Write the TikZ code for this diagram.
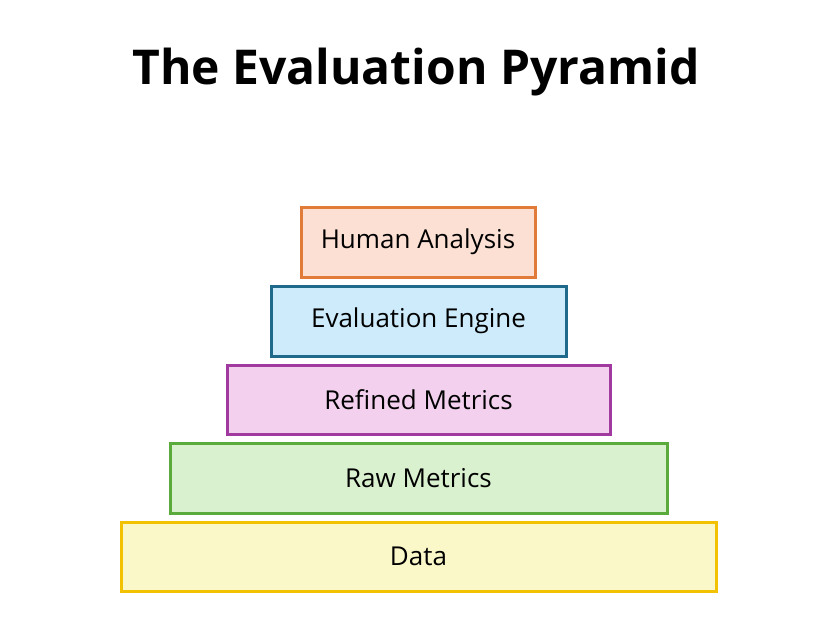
\documentclass[tikz,border=0pt]{standalone}
\usepackage{fontspec}
\setmainfont{Open Sans}
\definecolor{oB}{HTML}{E07B39}\definecolor{oF}{HTML}{FBE0D3}
\definecolor{bB}{HTML}{1F6A8A}\definecolor{bF}{HTML}{CDEBFA}
\definecolor{pB}{HTML}{A03A9E}\definecolor{pF}{HTML}{F2D0EE}
\definecolor{gB}{HTML}{5BAA3C}\definecolor{gF}{HTML}{D9F1CF}
\definecolor{yB}{HTML}{F2C200}\definecolor{yF}{HTML}{FAF7C8}
\tikzset{layer/.style={line width=3pt,font=\fontsize{26}{30}\selectfont}}
\begin{document}
\begin{tikzpicture}[x=1pt,y=-1pt]
\useasboundingbox[fill=white] (0,0) rectangle (829,632);
\node[font=\fontsize{48}{56}\selectfont\bfseries] (title) at (416,72) {The Evaluation Pyramid};
\draw[layer,draw=oB,fill=oF] (301,207) rectangle (535,277) node[midway,black] (h) {Human Analysis};
\draw[layer,draw=bB,fill=bF] (271,286) rectangle (566,356) node[midway,black] (e) {Evaluation Engine};
\draw[layer,draw=pB,fill=pF] (227,365) rectangle (610,434) node[midway,black] (r) {Refined Metrics};
\draw[layer,draw=gB,fill=gF] (170,443) rectangle (667,513) node[midway,black] (m) {Raw Metrics};
\draw[layer,draw=yB,fill=yF] (121,522) rectangle (716,591) node[midway,black] (d) {Data};
\end{tikzpicture}
\end{document}
